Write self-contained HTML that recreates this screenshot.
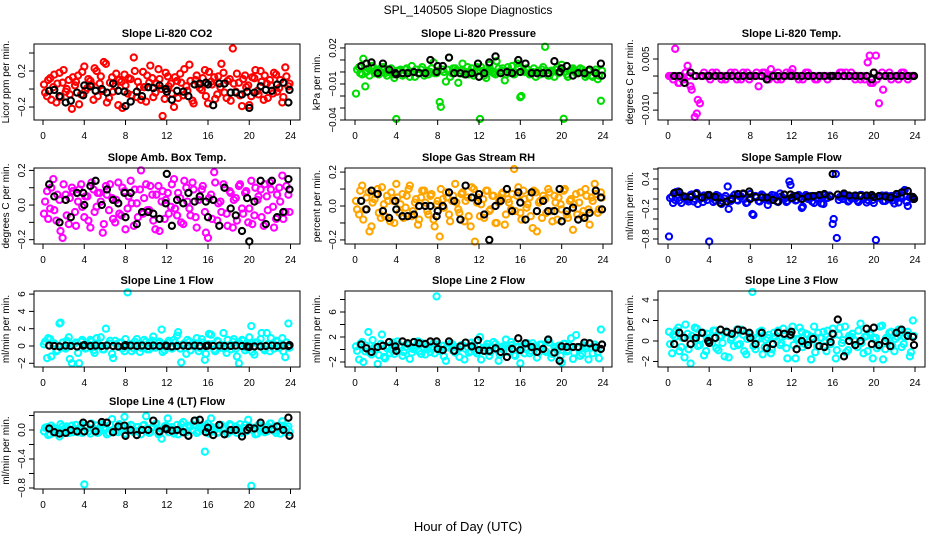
<!DOCTYPE html>
<html><head><meta charset="utf-8"><style>
html,body{margin:0;padding:0;background:#fff;}
svg{display:block;font-family:"Liberation Sans",sans-serif;}
</style></head><body>
<svg id="chart" width="936" height="540" viewBox="0 0 936 540" xmlns="http://www.w3.org/2000/svg">
<text x="468" y="14" text-anchor="middle" font-size="12">SPL_140505  Slope Diagnostics</text>
<text x="468" y="531" text-anchor="middle" font-size="13">Hour of Day (UTC)</text>
</svg>
<script>
const hoursA=[0.1,0.4,0.7,1.0,1.3,1.6,1.9,2.2,2.5,2.8,3.1,3.4,3.7,4.0,4.3,4.6,4.9,5.2,5.5,5.8,6.1,6.4,6.7,7.0,7.3,7.6,7.9,8.2,8.5,8.8,9.1,9.4,9.7,10.0,10.3,10.6,10.9,11.2,11.5,11.8,12.1,12.4,12.7,13.0,13.3,13.6,13.9,14.2,14.5,14.8,15.1,15.4,15.7,16.0,16.3,16.6,16.9,17.2,17.5,17.8,18.1,18.4,18.7,19.0,19.3,19.6,19.9,20.2,20.5,20.8,21.1,21.4,21.7,22.0,22.3,22.6,22.9,23.2,23.5,23.8];
const hoursB=[0.2,0.5,0.8,1.1,1.4,1.7,2.0,2.3,2.6,2.9,3.2,3.5,3.8,4.1,4.4,4.7,5.0,5.3,5.6,5.9,6.2,6.5,6.8,7.1,7.4,7.7,8.0,8.3,8.6,8.9,9.2,9.5,9.8,10.1,10.4,10.7,11.0,11.3,11.6,11.9,12.2,12.5,12.8,13.1,13.4,13.7,14.0,14.3,14.6,14.9,15.2,15.5,15.8,16.1,16.4,16.7,17.0,17.3,17.6,17.9,18.2,18.5,18.8,19.1,19.4,19.7,20.0,20.3,20.6,20.9,21.2,21.5,21.8,22.1,22.4,22.7,23.0,23.3,23.6,23.9];
const hoursK=[0.6,1.1,1.6,2.2,2.7,3.3,3.9,4.0,4.6,5.1,5.7,6.2,6.8,7.3,7.9,8.0,8.5,9.1,9.6,10.2,10.7,11.3,11.9,12.0,12.5,13.0,13.6,14.1,14.7,15.2,15.8,16.0,16.5,17.1,17.6,18.2,18.7,19.3,19.8,20.0,20.5,21.1,21.6,22.2,22.7,23.3,23.8,23.9];
const xTicks=[0,4,8,12,16,20,24];

const co2A=[.05,-.08,.12,.02,-.15,.18,.07,-.03,.10,-.22,.04,.15,-.06,.25,.01,.09,-.12,.20,.06,-.02,.28,-.10,.13,.03,-.18,.08,.16,-.05,.11,.35,-.09,.02,.19,-.14,.07,.12,-.04,.22,.00,-.11,.14,.06,-.20,.09,.17,-.07,.03,.27,-.13,.10,.05,-.01,.21,-.16,.08,.13,-.06,.02,.18,-.10,.11,.45,-.03,.07,-.19,.15,.04,-.08,.12,-.02,.20,-.12,.06,.10,-.05,.16,.01,-.15,.24,.03];
const co2B=[-.04,.10,-.12,.16,.06,-.09,.21,.00,-.06,.13,.08,-.17,.19,-.02,.11,.05,.23,-.08,.14,.30,-.15,.07,-.03,.17,.10,-.21,.04,.12,-.07,.20,.08,-.12,.02,.15,.26,-.09,.06,.11,-.30,.18,.03,-.05,.13,-.10,.07,.22,-.02,.09,-.16,.15,.01,.12,-.08,.19,.05,-.11,.14,.28,-.04,.09,-.13,.06,.17,-.07,.11,.02,-.18,.13,.21,-.06,.08,.15,-.10,.04,.18,-.03,.10,-.09,.14,.06];
const co2K=[-.02,-.01,-.08,-.15,-.13,-.04,-.07,.04,.03,-.02,.00,-.04,.06,-.02,-.03,-.19,-.14,-.03,-.08,.02,.01,.04,.00,-.03,-.12,-.02,-.03,-.08,.05,.06,.07,.05,-.18,.06,.06,-.04,-.04,-.06,-.03,-.21,-.04,.03,-.01,-.02,.05,.07,-.15,-.01];

const presA=[-.018,.004,-.002,-.012,.003,.005,-.001,.002,.0,.004,-.003,.001,-.002,-.044,.001,-.003,.002,.0,.005,-.004,-.001,.002,-.003,.001,.0,.008,-.001,-.025,.002,-.008,.012,-.001,.003,-.009,.001,-.002,.004,.0,-.003,.004,-.041,.001,-.005,.006,.0,-.002,.003,.001,-.007,.004,.0,-.002,.007,-.021,.001,.003,-.002,.0,-.004,.001,.002,.021,-.003,.001,-.004,.004,.0,-.039,-.002,.001,.003,-.001,.0,.002,-.004,.001,-.003,.0,-.006,-.024];
const presB=[.002,-.001,.011,.0,-.003,.005,.001,-.002,.004,-.001,.0,.003,-.005,.001,.002,-.001,.003,-.004,.0,.002,-.001,.004,.0,-.002,.003,-.001,.001,-.029,.0,.002,-.004,.003,.001,-.001,.007,.0,-.002,.003,-.001,.001,.004,-.003,.0,.002,-.001,.009,.0,.003,-.002,.001,.005,-.001,.004,-.020,.0,.002,-.001,.003,.0,-.002,.004,.001,-.003,.0,.002,-.001,.006,.0,-.004,.002,.001,-.001,.003,.0,-.002,.001,-.004,.002,-.003,.001];
const presK=[.005,.007,.008,-.001,.007,.002,-.001,-.002,-.001,-.001,.0,-.001,-.001,.010,.0,.005,.005,.012,-.001,-.001,-.002,-.001,.007,-.004,-.001,.008,.013,-.001,.0,-.001,.010,.0,.007,-.001,-.001,-.001,-.001,.009,.0,.003,.005,-.003,-.001,-.001,.002,-.001,.007,-.003];

const tmpA=[.0,.0,.008,-.002,.0,-.001,.003,-.003,.0,-.011,-.008,.0,.0,.0,.001,.0,.0,-.001,.0,.0,.001,.0,-.001,.0,.001,.0,-.001,.0,.0,-.003,.0,.001,.0,.002,.0,-.001,.0,.0,.001,.0,.002,.0,-.001,.0,.0,.001,.0,.0,-.001,.0,.0,.0,.0,.0,.0,.0,.001,.0,.0,.001,.0,.0,-.001,.0,.0,.006,-.002,.006,-.008,.001,.0,.0,-.001,.0,.0,.0,.001,.0,.0,.0];
const tmpB=[.0,-.001,.0,-.002,-.001,.001,.0,-.004,-.012,-.007,.0,.001,.0,-.001,.0,.001,.0,.0,-.001,.0,.0,.001,.0,-.001,.0,.001,.0,.0,.001,.0,.001,.0,-.001,.0,.0,.001,-.001,.0,.0,.001,.0,.0,.0,-.001,.001,.0,.0,-.001,.0,.0,.0,-.001,.0,.0,.0,.001,.0,.001,.0,.0,-.001,.0,.0,-.001,.004,-.002,.001,-.001,.0,-.004,.0,.001,.0,.0,-.001,.001,.0,-.001,.0,.0];
const tmpK=[.0,.0,-.002,.001,.0,.0,.0,.0,.0,.0,.0,.0,.0,.0,.0,.0,.0,.0,-.001,.0,.0,.0,.0,.0,.0,.0,.0,.0,.0,.0,.0,.0,.0,.0,.0,.0,.0,.0,-.001,.001,.0,.0,.0,.0,.0,.0,.0,.0];

const ambA=[-.05,.08,-.02,.15,-.09,.03,-.19,.06,-.11,.10,-.04,.02,.12,-.07,.05,-.13,.09,-.01,.07,-.16,.11,-.03,.04,-.10,.13,-.06,.08,-.02,.14,-.12,.01,.09,-.05,.12,-.03,.06,-.14,.11,.02,-.08,.07,-.01,.15,-.06,.04,-.11,.10,-.02,.13,-.07,.03,.09,-.04,-.19,.06,.19,-.09,.02,.12,-.05,.08,-.13,.04,.11,-.02,.07,-.10,.14,-.06,.03,.09,-.12,.05,.13,-.01,-.08,.10,.17,-.04,.06];
const ambB=[.02,-.08,.10,-.03,.06,-.15,.12,-.06,.04,.08,-.12,.09,-.01,.05,-.09,.13,-.04,.07,.02,-.11,.06,.12,-.08,.03,-.05,.10,-.14,.05,.01,.09,-.07,.20,.04,-.03,.11,-.09,.06,-.15,.08,.03,-.05,.12,-.02,.07,-.10,.14,.02,-.06,.09,-.13,.05,.11,-.16,.04,-.08,.13,.01,-.04,.10,-.12,.07,.03,-.09,.12,-.05,.08,-.02,-.11,.10,.05,-.07,.12,-.03,.09,-.13,.06,.02,-.08,.11,-.04];
const ambK=[.12,.05,-.10,.03,-.07,.07,.07,.0,.11,.14,.00,.09,.03,.01,.07,-.07,.07,-.11,-.04,-.04,-.05,-.08,.01,.18,-.12,.03,.01,.07,.02,.05,.02,-.07,.03,-.12,.10,-.02,-.06,-.15,.04,-.21,.02,.14,-.11,.14,-.07,-.04,.15,.09];

const rhA=[.03,-.05,.12,-.02,.08,-.12,.04,.10,-.07,.01,.06,-.09,.03,.13,-.04,.07,-.01,.10,-.06,.02,-.11,.05,.09,-.03,.06,-.08,.01,-.18,.04,.08,-.05,.03,.13,-.02,.07,-.09,.05,-.12,.10,.02,-.06,.04,.09,-.03,.06,-.10,.02,.07,-.11,.04,-.02,.22,.06,-.04,.09,-.01,.05,-.13,.08,.02,-.07,.04,.10,-.03,.06,-.08,.01,.09,-.05,.03,-.14,.07,.02,-.06,.10,-.02,.05,.13,-.04,.08];
const rhB=[-.02,.09,-.08,.05,-.15,.02,.07,-.04,.11,-.06,.03,.08,-.10,.05,.01,-.07,.06,.12,-.03,.04,-.08,.09,.02,-.05,.07,-.12,.03,.10,-.01,.05,-.09,.06,.02,-.04,.08,.03,-.06,.11,-.21,.05,.01,-.07,.09,-.02,.06,-.10,.04,.08,-.05,.02,.07,-.03,.11,-.08,.04,.01,-.06,.09,-.15,.03,.06,-.04,.08,-.09,.02,.05,-.02,.10,-.07,.04,.01,-.05,.08,-.03,.06,-.11,.03,.07,-.02,.05];
const rhK=[.03,-.02,.09,.07,-.03,-.07,.03,-.02,-.06,-.06,-.05,.0,.0,.0,-.06,-.03,.0,.08,.03,-.08,.12,.05,.03,.07,-.05,-.2,.0,.03,.10,-.03,.08,.02,-.08,.08,-.03,.03,-.03,-.03,.10,-.09,-.03,-.01,-.08,-.07,-.04,.09,.05,-.02];

const smpA=[-.75,.05,-.02,.15,-.08,.03,-.01,.08,-.05,.12,.0,-.06,.04,-.85,.02,-.03,.06,-.1,.01,.25,-.04,.07,-.02,.05,.10,-.08,.01,-.3,.06,-.04,.09,.0,-.12,.03,.07,-.05,.11,.02,-.06,.35,.01,-.03,.08,-.18,.04,.0,.06,-.08,.02,.05,-.1,.03,.07,-.5,.5,-.02,.04,.09,-.05,.01,.06,-.03,.08,.0,-.07,.05,-.02,-.82,.03,.07,-.04,.01,.06,-.09,.02,.05,.15,-.06,.03,.0];
const smpB=[.02,-.08,.14,-.03,.06,.01,-.05,.09,.0,-.1,.04,.07,-.02,.05,-.06,.08,.01,-.04,.06,-.2,.02,.09,-.03,.05,.0,-.07,.1,-.32,.03,-.05,.07,.01,-.03,.08,.02,-.06,.05,.0,-.04,.28,.06,-.02,.03,-.15,.08,.01,-.05,.06,.0,-.09,.07,.02,.05,-.4,-.78,.04,.0,.07,-.03,.05,.01,-.06,.08,.03,-.02,.06,-.08,.02,.05,-.04,.07,.0,-.03,.06,-.07,.02,.18,-.14,.05,.01];
const smpK=[.12,.14,.05,.04,.10,.03,.08,.08,.04,-.08,-.05,.0,.10,.11,.15,.0,.04,.03,.03,-.02,-.05,.09,.09,.02,.06,.0,.05,.06,.08,.10,.05,.50,.09,.11,.07,.07,.06,.07,.08,.04,.06,.05,.03,.10,.13,.16,.04,.0];

const l1A=[.2,-1.4,.8,.1,-.6,2.6,.4,-.3,1.0,-2.0,.3,-.8,.5,.1,-.2,.7,-.5,.9,.0,-.4,2.0,.3,-.9,.6,-.1,.4,-.6,6.2,.2,-.3,.8,-.7,.1,.5,-.4,.6,-.2,.3,1.9,-.5,.4,-.1,.7,1.2,-.3,.2,-.9,.5,.0,.3,-.6,.8,-1.6,.2,1.3,-.4,.6,-.2,1.5,-.8,.1,.5,-.3,-2.0,.7,-.5,.2,2.3,-1.0,.4,.8,-.3,1.5,-.6,.3,.6,-.2,.9,-1.3,2.6];
const l1B=[.5,.9,-1.2,.3,-.5,2.7,-.2,.6,-1.5,.1,.4,-2.0,.7,-.3,.2,.5,-.8,.3,1.0,-.4,.1,.6,-1.4,.2,.4,-.3,.8,.0,-.6,.5,.2,-.2,.7,-.4,.3,1.1,-.1,.5,-.7,.2,.6,-.3,.4,1.6,-1.9,.3,.7,-.5,.1,.9,-.2,.4,-.9,1.4,.2,-.6,.5,.1,-.3,.7,-.4,.8,-1.2,.3,.6,-.2,1.0,-.7,.4,.1,1.5,-.5,.2,.9,-.3,.5,.1,-.6,.4,-.2];
const l1K=[.05,0,-.05,.05,0,-.05,.05,.1,0,.05,0,.05,0,-.05,0,.1,.05,0,.05,0,.05,0,.05,0,-.05,0,.05,0,.05,0,0,.05,0,.05,0,0,.05,0,-.05,-.1,-.05,-.05,0,.05,0,.05,0,.1];

const l2A=[.5,-1.6,1.2,-.3,2.8,-.8,.4,-2.3,.9,-1.2,.2,-.6,1.1,-.1,.7,-1.0,.4,.8,-.5,.2,1.3,-.7,.3,.0,-.4,1.0,8.5,-.2,.6,-1.8,.3,.9,-.5,.1,.7,-1.6,.4,-.3,.8,-.6,2.0,-.2,.5,-1.0,.3,.9,-1.8,.2,.6,-.4,1.2,-.9,.4,-2.2,.7,.0,-.6,1.0,.3,-.5,.8,-.2,1.5,-1.3,.4,.1,-1.0,.9,-.3,.6,-1.5,2.3,.2,-.7,.5,-1.6,.3,.8,-.4,3.2];
const l2B=[-.2,.9,-2.0,.6,-.5,1.5,.2,-.9,2.4,-1.4,.5,.0,-.7,1.3,.3,-.4,.9,-1.5,.1,.6,-.3,1.0,-.8,.4,.2,-.6,.8,.0,-1.1,.5,.9,-.2,.4,-1.2,.7,.1,-.5,1.1,-.3,.6,-1.6,.3,.9,-.4,1.2,.0,-.8,.5,1.6,-.3,.7,-1.0,.4,.2,-.6,1.0,-.2,.5,-1.3,.8,.1,-.4,1.1,-.7,.3,.6,-2.1,.9,-.1,1.8,-.5,.4,-1.0,.7,.2,1.0,-.6,.4,-1.4,.8];
const l2K=[.8,.2,-.4,.4,.6,1.2,.5,-.2,1.3,1.0,1.2,1.0,.9,1.3,1.3,.1,-.1,1.3,-.2,.5,1.1,.5,1.5,-.1,-.2,-.2,.2,-.4,-1.2,.1,1.8,-.1,1.0,.4,-.4,.1,1.6,-.5,-1.8,.5,.4,.4,.4,1.1,1.0,.3,.1,.8];

const l3A=[.9,-1.2,.4,1.3,-.6,-1.6,.7,-2.2,.2,1.2,-.4,.8,-1.0,.3,-.2,1.0,-.9,.5,-1.5,.8,.1,-.5,1.1,-.3,.6,-1.3,.4,4.8,-.8,.2,1.0,-.6,.3,-1.2,.8,.0,-.4,1.2,-.7,.5,1.4,-1.7,.2,.9,-.3,.6,-1.8,1.4,-.5,.3,.9,-1.0,.2,1.2,-1.7,.6,-.2,1.4,-.9,.4,.1,-.6,1.7,-1.2,.5,.8,-1.7,.3,-.5,1.5,-.8,.2,.9,-1.0,.4,1.1,-.3,.6,-1.5,2.0];
const l3B=[-.3,.6,1.0,-1.0,.3,1.6,-.8,.5,1.3,-.5,.2,-1.4,.7,.0,1.0,-.7,.4,-.2,.9,-1.6,.3,.6,-.4,1.1,-1.0,.2,.7,-.5,.3,.9,-1.3,.1,.6,-.8,.4,1.0,-.2,.5,-1.7,.9,-.4,.2,1.3,-.6,.7,-.1,.4,-1.1,.8,.3,-.5,1.0,-.3,.6,-.9,1.3,.1,-1.1,.5,.7,-.4,1.0,-.2,.4,-1.0,.6,.2,-.7,1.4,-1.8,.3,.8,-.5,.2,1.1,-.6,.4,.9,-1.1,.5];
const l3K=[-.3,.8,.3,-.3,.3,.8,.0,-.2,.3,1.1,.9,.7,1.1,1.0,.8,.3,-.3,.8,-.7,-.3,.8,.7,.6,.9,-.8,.0,-.4,.2,-.5,-.6,-.1,.7,2.1,-1.5,.0,-.4,.0,1.2,-.3,1.3,-.4,.0,-.5,.8,1.1,.5,.4,-.4];

const l4A=[-.02,.04,-.06,.03,.0,-.09,.05,.02,-.04,.06,.01,-.03,.07,-.75,.04,-.05,.02,.06,-.02,.08,.03,-.04,.15,.01,-.03,.05,.18,-.01,.07,-.03,.04,.0,.06,.19,-.04,.03,.08,-.06,-.12,.05,.16,.01,-.05,.07,.02,.11,-.03,.06,.0,.13,-.02,.05,-.3,.09,.16,.02,-.04,.06,.01,-.03,.08,-.01,.05,.02,-.04,.07,.14,-.77,.03,-.05,.06,.01,-.02,.09,.03,-.04,.06,.12,-.03,.05];
const l4B=[.03,-.07,.06,.02,-.05,.08,-.01,.05,.0,-.03,.07,.02,-.04,.06,-.02,.09,.01,-.04,.05,.03,-.06,.07,.0,-.02,.08,.04,-.05,.03,.06,-.01,.04,-.06,.07,.02,-.03,.05,.09,-.04,.01,.06,-.03,.04,.0,-.06,.08,.02,-.02,.05,.07,-.04,.03,.01,.06,-.05,.04,.0,-.03,.07,.02,-.05,.06,.01,-.04,.08,.03,-.02,.05,.0,-.06,.07,.02,-.03,.05,.09,-.01,.04,-.05,.06,.02,-.03];
const l4K=[.02,-.03,-.05,-.04,.0,-.02,.10,-.02,.08,-.02,.11,.10,-.03,.05,.06,-.08,.0,-.07,.0,.0,.13,-.02,.02,.01,-.01,.0,-.03,-.08,.13,.14,-.03,.03,-.07,.07,-.06,.0,.0,-.09,.0,.03,.02,.10,.0,.01,.05,.0,.17,-.08];

const panels=[
 {key:'co2',title:'Slope Li-820 CO2',yl:'Licor ppm per min.',col:0,row:0,dom:[-0.344,0.5],ticks:[-0.2,0,0.2,0.4],labels:['-0.2','','0.2',''],color:'#ff0000',A:co2A,B:co2B,K:co2K},
 {key:'pressure',title:'Slope Li-820 Pressure',yl:'kPa per min.',col:1,row:0,dom:[-0.04,0.0233],ticks:[-0.04,-0.03,-0.02,-0.01,0,0.01,0.02],labels:['-0.04','','','-0.01','','','0.02'],color:'#00dd00',A:presA,B:presB,K:presK},
 {key:'temp',title:'Slope Li-820 Temp.',yl:'degrees C per min.',col:2,row:0,dom:[-0.0129,0.0094],ticks:[-0.01,-0.005,0,0.005],labels:['-0.010','','','0.005'],color:'#ff00ff',A:tmpA,B:tmpB,K:tmpK},
 {key:'ambbox',title:'Slope Amb. Box Temp.',yl:'degrees C per min.',col:0,row:1,dom:[-0.225,0.214],ticks:[-0.2,-0.1,0,0.1,0.2],labels:['-0.2','','0.0','','0.2'],color:'#ff00ff',A:ambA,B:ambB,K:ambK},
 {key:'rh',title:'Slope Gas Stream RH',yl:'percent per min.',col:1,row:1,dom:[-0.224,0.224],ticks:[-0.2,-0.1,0,0.1,0.2],labels:['-0.2','','0.0','','0.2'],color:'#ffa500',A:rhA,B:rhB,K:rhK},
 {key:'sample',title:'Slope Sample Flow',yl:'ml/min per min.',col:2,row:1,dom:[-0.9,0.62],ticks:[-0.8,-0.6,-0.4,-0.2,0,0.2,0.4,0.6],labels:['-0.8','','','-0.2','','','0.4',''],color:'#0000ff',A:smpA,B:smpB,K:smpK},
 {key:'line1',title:'Slope Line 1 Flow',yl:'ml/min per min.',col:0,row:2,dom:[-2.43,6.36],ticks:[-2,0,2,4,6],labels:['-2','0','2','4','6'],color:'#00ffff',A:l1A,B:l1B,K:l1K},
 {key:'line2',title:'Slope Line 2 Flow',yl:'ml/min per min.',col:1,row:2,dom:[-2.8,9.36],ticks:[-2,0,2,4,6,8],labels:['-2','','2','','6',''],color:'#00ffff',A:l2A,B:l2B,K:l2K},
 {key:'line3',title:'Slope Line 3 Flow',yl:'ml/min per min.',col:2,row:2,dom:[-2.54,4.88],ticks:[-2,0,2,4],labels:['-2','0','2','4'],color:'#00ffff',A:l3A,B:l3B,K:l3K},
 {key:'line4',title:'Slope Line 4 (LT) Flow',yl:'ml/min per min.',col:0,row:3,dom:[-0.814,0.248],ticks:[-0.8,-0.6,-0.4,-0.2,0,0.2],labels:['-0.8','','-0.4','','0.0',''],color:'#00ffff',A:l4A,B:l4B,K:l4K}
];
const boxL=[34,345,658], boxR=[300,612,925], boxT=[44,168,291,412], boxH=[76,76,76,77];
const x0s=[43,355,668], x24s=[290.5,603,915];
const NS='http://www.w3.org/2000/svg';
const svg=document.getElementById('chart');
function mk(tag,attrs,parent){const e=document.createElementNS(NS,tag);for(const k in attrs)e.setAttribute(k,attrs[k]);(parent||svg).appendChild(e);return e;}
panels.forEach(p=>{
  const g=mk('g',{});
  
  
  const L=boxL[p.col],R=boxR[p.col],T=boxT[p.row],B=T+boxH[p.row];
  const xs=h=>x0s[p.col]+(x24s[p.col]-x0s[p.col])*h/24;
  const ys=v=>B-(v-p.dom[0])/(p.dom[1]-p.dom[0])*(B-T);
  const t=mk('text',{x:(L+R)/2,y:T-7,'text-anchor':'middle','font-size':'11','font-weight':'bold'},g);t.textContent=p.title;
  
  
  const yt=mk('text',{transform:`translate(${L-25},${(T+B)/2}) rotate(-90)`,'text-anchor':'middle','font-size':'10'},g);yt.textContent=p.yl;
  
  
  const pts=mk('g',{fill:'none','stroke-width':'2.1'},g);
  
  
  [[hoursA,p.A,p.color],[hoursB,p.B,p.color],[hoursK,p.K,'#000']].forEach(([hx,vy,c])=>{
    const n=Math.min(hx.length,vy.length);
    for(let i=0;i<n;i++){const cy=Math.max(T+1,Math.min(B-1,ys(vy[i])));
      const ci=mk('circle',{cx:xs(hx[i]).toFixed(1),cy:cy.toFixed(1),r:'3.1',stroke:c},pts);
      
      }
  });
  const box=mk('rect',{x:L,y:T,width:R-L,height:B-T,fill:'none',stroke:'#000','stroke-width':'1'},g);
  
  
  xTicks.forEach(h=>{const x=xs(h);mk('line',{x1:x,x2:x,y1:B,y2:B+5,stroke:'#000'},g);
    const tl=mk('text',{x:x,y:B+19,'text-anchor':'middle','font-size':'10'},g);tl.textContent=h;
    
    });
  p.ticks.forEach((v,i)=>{const y=ys(v);mk('line',{x1:L-5,x2:L,y1:y,y2:y,stroke:'#000'},g);
    if(p.labels[i]){const tl=mk('text',{transform:`translate(${L-9},${y}) rotate(-90)`,'text-anchor':'middle','font-size':'10'},g);tl.textContent=p.labels[i].replace('-','\u2212');
    
    }});
});
</script>
</body></html>
